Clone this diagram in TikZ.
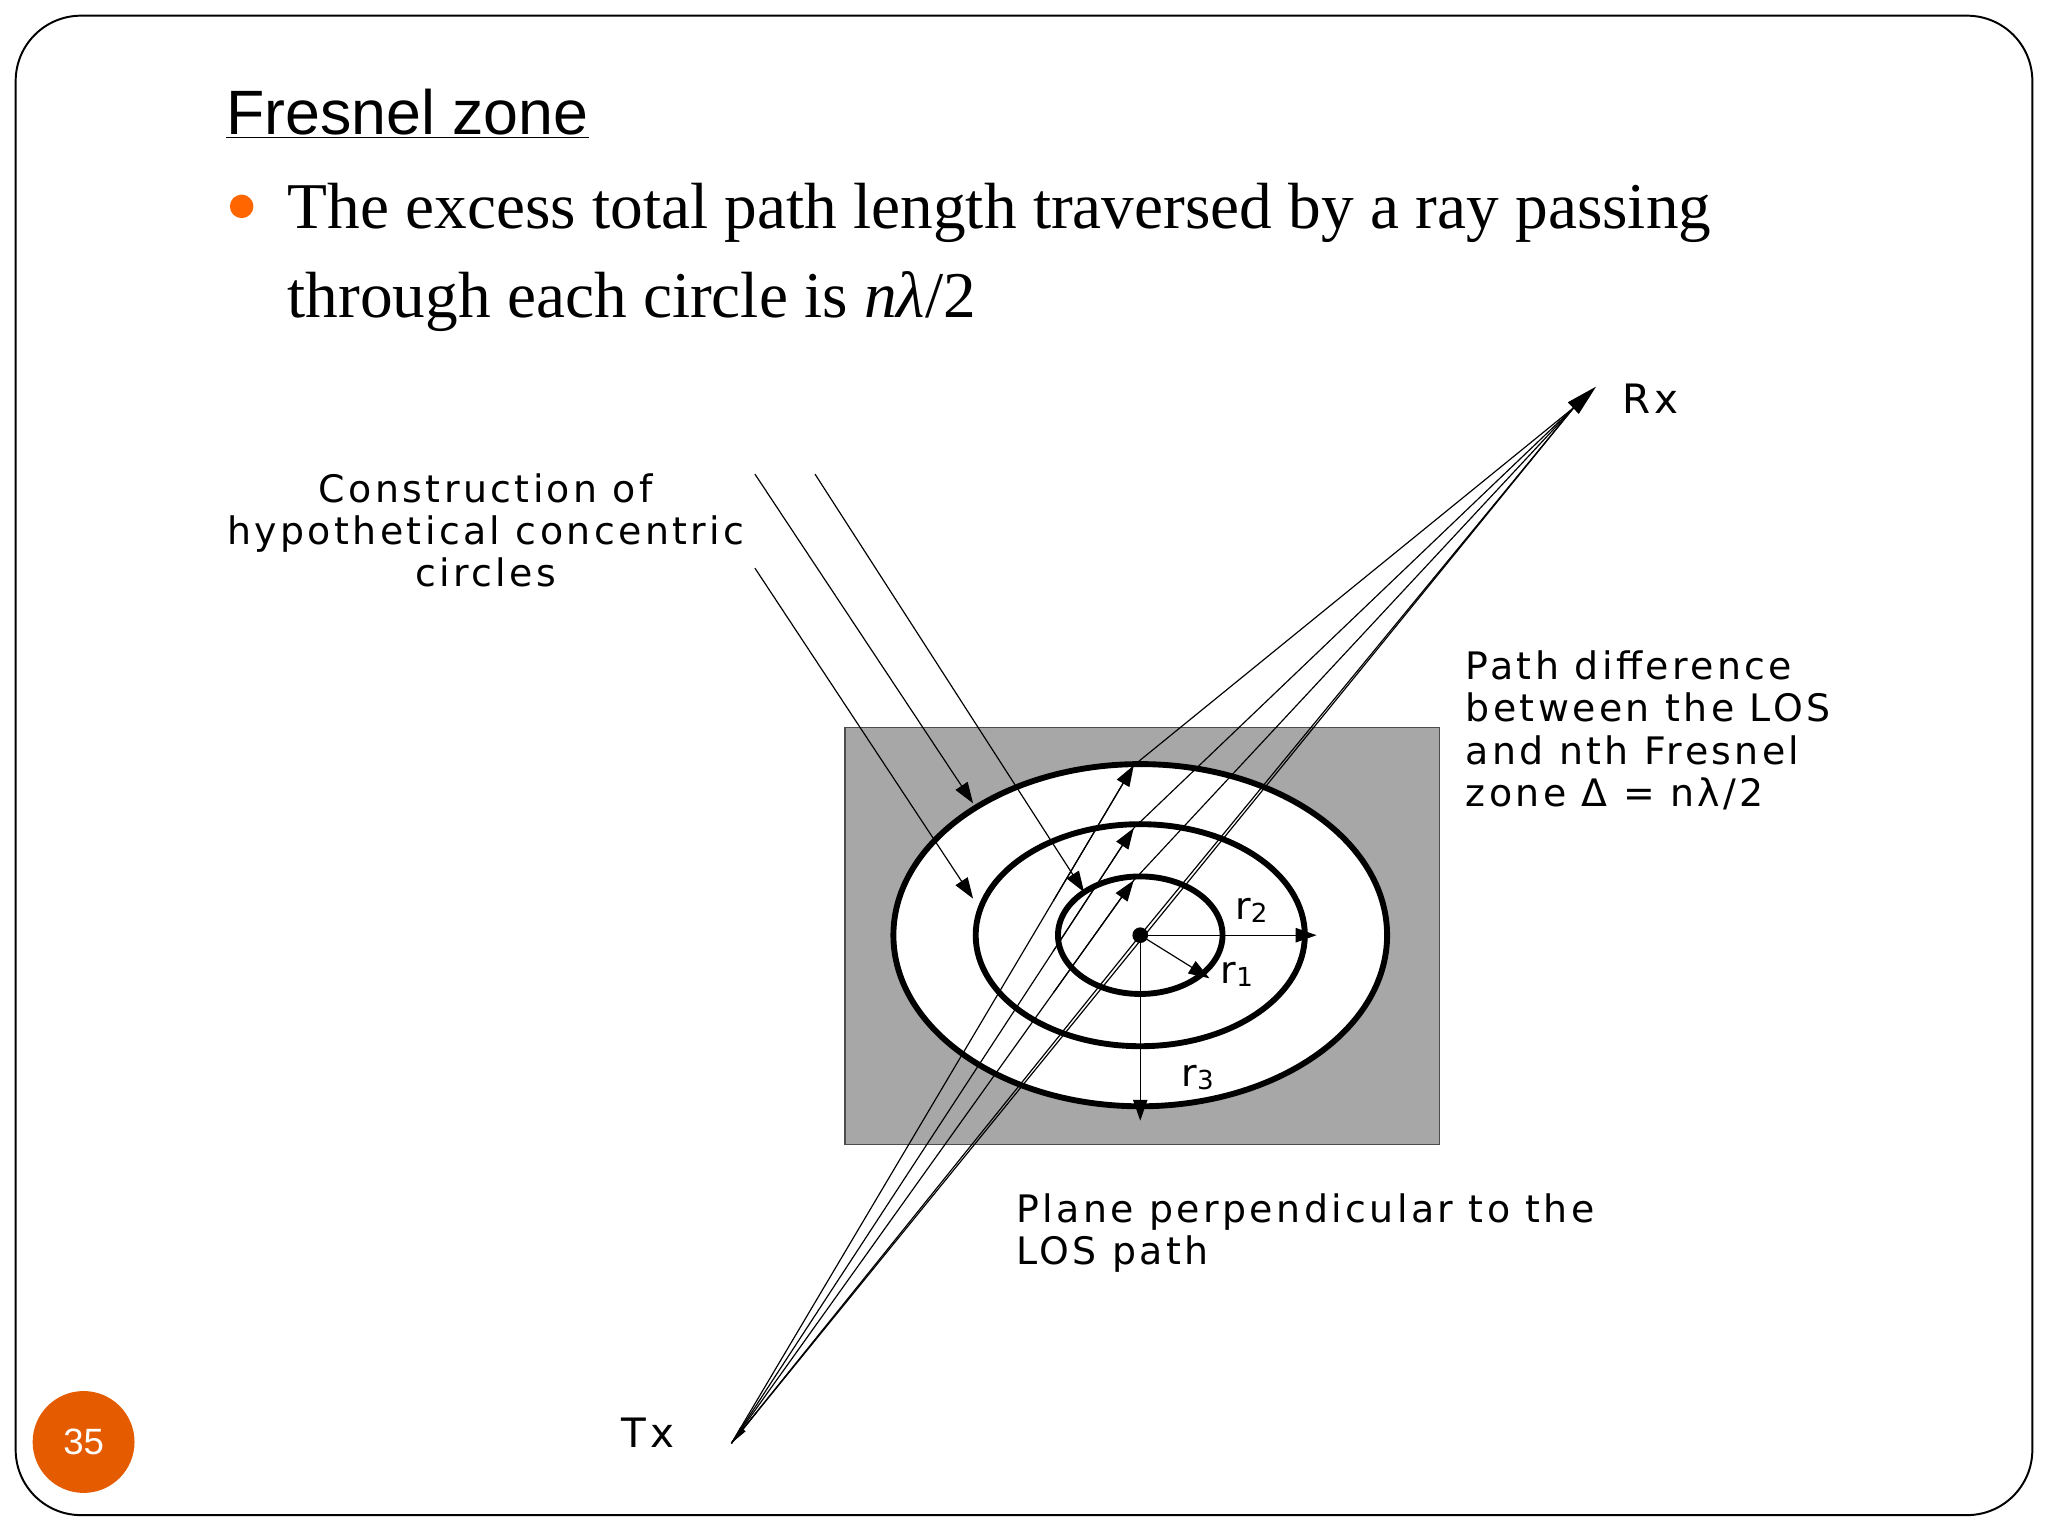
\documentclass[tikz,border=0pt]{standalone}
\usepackage{fontspec}
\setmainfont{Liberation Serif}
\newfontfamily\lab[LetterSpace=9]{DejaVu Sans}
\newfontfamily\ttl{Liberation Sans}
\usetikzlibrary{arrows.meta,calc}
\begin{document}
\begin{tikzpicture}[x=1pt,y=-1pt,
  lbl/.style={font=\lab\fontsize{29}{32}\selectfont,inner sep=0,align=left},
  ray/.style={line width=0.9pt},
  tip/.style={-{Triangle[length=16pt,width=11pt]}},
  ring/.style={line width=4.5pt}]
\useasboundingbox (0,0) rectangle (1568,1176);
\draw[line width=1.5pt,rounded corners=50] (12,12) rectangle (1556,1160);
\node[anchor=base west,inner sep=0,font=\ttl\fontsize{48}{50}\selectfont] (title) at (173,103) {\underline{Fresnel zone}};
\fill[orange!80!red] (185,158) circle (9);
\node[anchor=base west,inner sep=0,font=\fontsize{50}{60}\selectfont] (body1) at (220,175) {The excess total path length traversed by a ray passing};
\node[anchor=base west,inner sep=0,font=\fontsize{50}{60}\selectfont] (body2) at (220,243) {through each circle is \textit{nλ}/2};
\fill[gray!85!black!60] (647,557) rectangle (1102,876);
\draw[line width=1pt,gray!60!black] (647,557) rectangle (1102,876);
\fill[white] (873,716) ellipse (189 and 131);
\draw[ring] (873,716) ellipse (189 and 131);
\draw[ring] (873,716) ellipse (126 and 85);
\draw[ring] (873,716) ellipse (63 and 45);
\coordinate (c) at (873,716);
\fill (c) circle (6);
\coordinate (tx) at (560,1105);
\coordinate (rxc) at (1205,312);
\coordinate (rx) at (1222,296);
\coordinate (p1) at (868,586);
\coordinate (p2) at (868,634);
\coordinate (p3) at (868,674);
\draw[ray] (tx) -- (p1) -- (rxc);
\draw[ray] (tx) -- (p2) -- (rxc);
\draw[ray] (tx) -- (p3) -- (rxc);
\draw[ray] (tx) -- (c) -- (rxc);
\draw[ray] (tx) -- (rxc);
\draw[ray,tip] ($(tx)!0.8!(p1)$) -- (p1);
\draw[ray,tip] ($(tx)!0.8!(p2)$) -- (p2);
\draw[ray,tip] ($(tx)!0.8!(p3)$) -- (p3);
\draw[ray,-{Triangle[length=24pt,width=12pt]}] (rxc) -- (rx);
\draw[ray,-{Triangle[length=14pt,width=5pt]}] ($(rxc)!0.97!(tx)$) -- (tx);
\draw[ray,tip] (c) -- (1008,716);
\draw[ray,tip] (c) -- (926,749);
\draw[ray,tip] (c) -- (873,858);
\node[lbl,font=\lab\fontsize{29}{30}\selectfont] (r2) at (958,697) {r\raisebox{-2pt}{\fontsize{20}{20}\selectfont 2}};
\node[lbl,font=\lab\fontsize{29}{30}\selectfont] (r1) at (947,746) {r\raisebox{-2pt}{\fontsize{20}{20}\selectfont 1}};
\node[lbl,font=\lab\fontsize{29}{30}\selectfont] (r3) at (917,825) {r\raisebox{-2pt}{\fontsize{20}{20}\selectfont 3}};
\coordinate (a1) at (578,363); \coordinate (b1) at (745,615);
\coordinate (a2) at (624,363); \coordinate (b2) at (830,683);
\coordinate (a3) at (578,435); \coordinate (b3) at (745,688);
\draw[ray,tip] (a1) -- (b1);
\draw[ray,tip] (a2) -- (b2);
\draw[ray,tip] (a3) -- (b3);
\node[lbl,align=center,font=\lab\fontsize{29}{32}\selectfont] (cons) at (372,406) {Construction of\\hypothetical concentric\\circles};
\node[lbl,anchor=north west,font=\lab\fontsize{29}{32.5}\selectfont] (pd) at (1122,498) {Path difference\\between the LOS\\and nth Fresnel\\zone Δ = nλ/2};
\node[lbl,anchor=north west] (pl) at (778,914) {Plane perpendicular to the\\LOS path};
\node[lbl,anchor=west,font=\lab\fontsize{31}{32}\selectfont] (rxl) at (1242,305) {Rx};
\node[lbl,anchor=west,font=\lab\fontsize{31}{32}\selectfont] (txl) at (476,1097) {Tx};
\fill[orange!80!red!90!black] (64,1104) circle (39);
\node[font=\ttl\fontsize{28}{30}\selectfont,text=white] (pg) at (64,1104) {35};
\end{tikzpicture}
\end{document}
